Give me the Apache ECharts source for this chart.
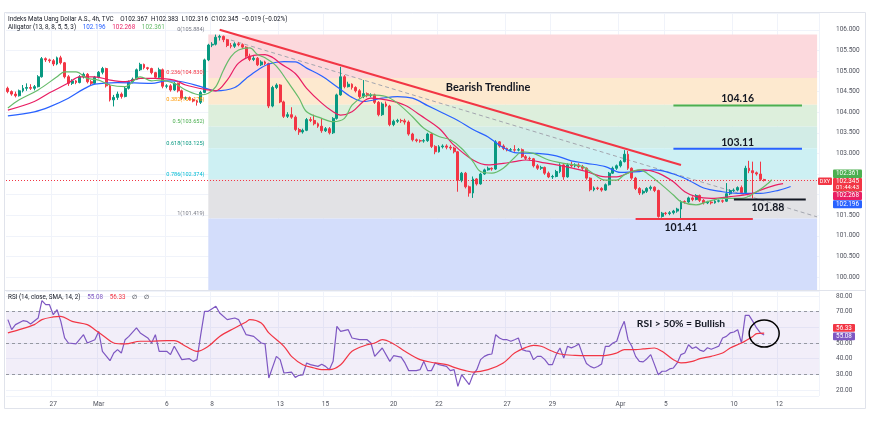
<!DOCTYPE html>
<html><head><meta charset="utf-8">
<script src="https://cdn.jsdelivr.net/npm/echarts@6/dist/echarts.min.js"></script>
<style>html,body{margin:0;padding:0;background:#fff}#c{width:870px;height:426px}</style>
</head><body><div id="c"></div>
<script>
// ---------- DATA ----------
// 4h candles, DXY, 23 Feb – 11 Apr 2023 : [open, close, low, high]
const ohlc = [
[104.58,104.50,104.46,104.62],[104.50,104.44,104.40,104.53],[104.44,104.40,104.36,104.50],[104.40,104.52,104.38,104.55],
[104.52,104.58,104.48,104.66],[104.58,104.60,104.52,104.70],[104.60,104.58,104.54,104.68],[104.58,104.62,104.53,104.66],
[104.62,104.86,104.60,104.90],[104.86,105.30,104.84,105.34],[105.30,105.27,105.22,105.33],[105.27,105.25,105.20,105.30],
[105.25,105.17,105.12,105.29],[105.17,105.32,105.14,105.35],[105.32,105.20,105.16,105.37],[105.20,104.86,104.82,105.22],
[104.86,104.70,104.64,104.90],[104.70,104.76,104.66,104.80],[104.76,104.72,104.68,104.78],[104.72,104.86,104.70,104.90],
[104.86,104.92,104.82,104.96],[104.92,104.74,104.70,104.95],[104.74,104.70,104.66,104.78],[104.70,104.85,104.68,104.88],
[104.85,104.97,104.82,105.00],[104.97,105.06,104.92,105.10],[105.06,104.64,104.60,105.08],[104.64,104.30,104.26,104.68],
[104.30,104.36,104.14,104.42],[104.36,104.44,104.30,104.50],[104.44,104.38,104.33,104.48],[104.38,104.58,104.36,104.62],
[104.58,104.74,104.55,104.77],[104.74,104.80,104.70,104.84],[104.80,105.03,104.78,105.06],[105.03,105.16,105.00,105.20],
[105.16,105.08,105.04,105.18],[105.08,105.06,105.02,105.10],[105.06,104.96,104.92,105.08],[104.96,104.85,104.82,104.98],
[104.85,105.03,104.83,105.08],[105.03,104.63,104.58,105.06],[104.63,104.64,104.58,104.68],[104.64,104.54,104.50,104.68],
[104.54,104.70,104.52,104.73],[104.70,104.52,104.48,104.72],[104.52,104.34,104.30,104.55],[104.34,104.35,104.30,104.38],
[104.35,104.31,104.28,104.38],[104.31,104.27,104.24,104.34],[104.27,104.24,104.16,104.30],[104.24,104.48,104.20,104.52],
[104.48,105.27,104.46,105.30],[105.27,105.63,105.24,105.66],[105.63,105.65,105.58,105.70],[105.65,105.82,105.62,105.884],
[105.82,105.84,105.74,105.88],[105.84,105.76,105.70,105.86],[105.76,105.62,105.58,105.78],[105.62,105.60,105.55,105.68],
[105.60,105.66,105.56,105.70],[105.66,105.64,105.60,105.70],[105.64,105.58,105.54,105.67],[105.58,105.36,105.32,105.60],
[105.36,105.28,105.24,105.42],[105.28,105.31,105.24,105.36],[105.31,105.15,105.12,105.34],[105.15,105.22,105.12,105.26],
[105.22,105.18,105.14,105.25],[105.18,104.15,104.10,105.20],[104.15,104.60,104.12,104.64],[104.60,104.66,104.56,104.70],
[104.66,104.25,104.22,104.68],[104.25,103.90,103.86,104.28],[103.90,103.94,103.86,104.00],[103.94,103.88,103.84,104.12],
[103.88,103.58,103.54,103.92],[103.58,103.52,103.45,103.62],[103.52,103.56,103.48,103.60],[103.56,103.82,103.54,103.86],
[103.82,103.80,103.76,103.88],[103.80,103.72,103.68,103.94],[103.72,103.66,103.62,103.75],[103.66,103.55,103.50,103.86],
[103.55,103.60,103.52,103.64],[103.60,103.50,103.46,103.64],[103.50,103.85,103.47,103.88],[103.85,104.42,103.82,104.45],
[104.42,104.86,104.40,105.10],[104.86,104.62,104.58,104.90],[104.62,104.68,104.60,104.74],[104.68,104.60,104.55,104.70],
[104.60,104.52,104.48,104.63],[104.52,104.38,104.33,104.56],[104.38,104.45,104.34,104.78],[104.45,104.40,104.36,104.48],
[104.40,104.42,104.36,104.46],[104.42,104.24,104.20,104.45],[104.24,103.94,103.90,104.27],[103.94,104.20,103.91,104.24],
[104.20,104.15,104.12,104.26],[104.15,103.70,103.66,104.18],[103.70,103.78,103.66,103.82],[103.78,103.80,103.74,103.84],
[103.80,103.79,103.74,103.84],[103.79,103.76,103.70,103.84],[103.76,103.47,103.43,103.80],[103.47,103.33,103.29,103.50],
[103.33,103.31,103.27,103.36],[103.31,103.30,103.26,103.34],[103.30,103.31,103.26,103.35],[103.31,103.47,103.28,103.50],
[103.47,103.17,103.13,103.50],[103.17,103.04,102.98,103.20],[103.04,103.16,103.02,103.20],[103.16,103.18,103.12,103.22],
[103.18,103.15,103.10,103.22],[103.15,103.13,103.08,103.20],[103.13,103.04,103.00,103.16],[103.04,102.35,102.07,103.06],
[102.35,102.52,102.30,102.55],[102.52,102.19,102.15,102.55],[102.19,102.04,101.95,102.22],[102.04,102.38,101.92,102.44],
[102.38,102.26,102.22,102.40],[102.26,102.50,102.24,102.53],[102.50,102.60,102.48,102.63],[102.60,102.64,102.58,102.68],
[102.64,102.62,102.58,102.66],[102.62,103.28,102.60,103.32],[103.28,103.18,103.14,103.30],[103.18,103.12,103.08,103.22],
[103.12,103.08,103.05,103.14],[103.08,103.09,103.05,103.13],[103.09,103.08,103.04,103.20],[103.08,103.09,103.05,103.13],
[103.09,102.92,102.89,103.12],[102.92,102.88,102.84,102.96],[102.88,102.87,102.83,102.92],[102.87,102.70,102.66,102.89],
[102.70,102.64,102.60,102.74],[102.64,102.66,102.60,102.70],[102.66,102.52,102.48,102.68],[102.52,102.43,102.40,102.56],
[102.43,102.44,102.38,102.48],[102.44,102.56,102.42,102.60],[102.56,102.72,102.52,102.76],[102.72,102.43,102.36,102.74],
[102.43,102.72,102.41,102.76],[102.72,102.70,102.66,102.80],[102.70,102.72,102.66,102.76],[102.72,102.68,102.64,102.76],
[102.68,102.64,102.60,102.72],[102.64,102.40,102.36,102.66],[102.40,102.12,102.08,102.42],[102.12,102.16,102.08,102.20],
[102.16,102.15,102.11,102.19],[102.15,102.11,102.07,102.18],[102.11,102.24,102.09,102.27],[102.24,102.52,102.22,102.55],
[102.52,102.64,102.50,102.68],[102.64,102.70,102.60,102.73],[102.70,102.80,102.66,102.84],[102.80,102.98,102.78,103.08],
[102.98,102.64,102.60,103.06],[102.64,102.40,102.36,102.66],[102.40,102.15,102.11,102.43],[102.15,102.04,101.99,102.18],
[102.04,102.08,102.00,102.12],[102.08,102.15,102.04,102.18],[102.15,102.18,102.10,102.22],[102.18,102.10,102.06,102.20],
[102.10,101.47,101.44,102.12],[101.47,101.55,101.44,101.58],[101.55,101.54,101.50,101.58],[101.54,101.56,101.50,101.60],
[101.56,101.60,101.52,101.63],[101.60,101.65,101.56,101.68],[101.65,101.83,101.419,101.86],[101.83,101.82,101.78,101.86],
[101.82,101.92,101.80,101.95],[101.92,101.88,101.84,101.96],[101.88,101.98,101.86,102.01],[101.98,101.86,101.82,102.00],
[101.86,101.80,101.76,101.89],[101.80,101.82,101.77,101.85],[101.82,101.80,101.76,101.85],[101.80,101.84,101.78,101.87],
[101.84,101.85,101.81,101.88],[101.85,101.84,101.80,101.88],[101.84,102.02,101.82,102.28],[102.02,102.10,101.99,102.13],
[102.10,102.11,102.06,102.15],[102.11,102.17,102.08,102.20],[102.17,102.05,102.02,102.22],[102.05,102.64,102.02,102.70],
[102.64,102.58,102.52,102.82],[102.58,102.53,101.91,102.80],[102.53,102.50,102.46,102.56],[102.50,102.37,102.33,102.80],
[102.367,102.345,102.316,102.383]
];

// Alligator lines: [bar index, value]
const jaw = [[0,103.91],[7,104.01],[11,104.13],[16,104.34],[20,104.56],[23,104.68],[29,104.72],[38,104.70],[42,104.76],[46,104.74],[51,104.62],[55,104.52],[60,104.60],[63,104.82],[66,105.02],[69,105.17],[73,105.23],[76,105.22],[79,105.07],[83,104.88],[87,104.62],[91,104.36],[94,104.26],[99,104.34],[103,104.38],[107,104.34],[111,104.16],[115,103.98],[119,103.80],[123,103.58],[127,103.40],[130,103.20],[134,103.02],[140,103.00],[145,102.94],[149,102.82],[153,102.76],[158,102.68],[162,102.54],[167,102.56],[171,102.60],[176,102.50],[180,102.35],[184,102.16],[189,102.07],[193,102.03],[199,102.03],[204,102.11],[207,102.196]];
const teeth = [[0,104.05],[7,104.26],[11,104.47],[16,104.71],[19,104.86],[23,104.86],[27,104.78],[31,104.74],[35,104.82],[39,104.82],[44,104.78],[47,104.66],[53,104.54],[55,104.52],[58,104.78],[61,105.19],[65,105.38],[68,105.40],[70,105.33],[72,105.19],[76,104.94],[79,104.58],[83,104.22],[86,104.01],[88,103.93],[91,104.01],[94,104.26],[96,104.34],[100,104.30],[105,104.17],[109,103.93],[114,103.61],[118,103.20],[123,102.84],[127,102.72],[131,102.76],[134,102.80],[137,102.84],[142,102.77],[149,102.65],[153,102.56],[158,102.43],[161,102.43],[165,102.56],[168,102.60],[172,102.52],[176,102.31],[179,102.07],[182,101.95],[186,101.91],[191,101.95],[197,102.03],[199,102.11],[203,102.23],[205,102.268]];
const lips = [[0,104.10],[3,104.30],[8,104.54],[13,104.86],[15,104.98],[18,104.98],[21,104.82],[24,104.78],[27,104.66],[31,104.62],[35,104.86],[38,104.76],[40,104.78],[44,104.70],[47,104.54],[51,104.42],[53,104.46],[55,104.62],[57,105.02],[59,105.35],[61,105.51],[64,105.56],[66,105.40],[68,105.32],[71,105.12],[74,104.74],[77,104.34],[79,104.01],[83,103.85],[86,103.77],[89,103.85],[91,104.17],[94,104.38],[96,104.42],[100,104.38],[103,104.22],[107,103.89],[110,103.61],[114,103.41],[117,103.33],[120,103.12],[123,102.80],[125,102.56],[128,102.52],[131,102.64],[134,102.90],[136,103.04],[139,103.00],[143,102.84],[147,102.76],[152,102.68],[154,102.56],[158,102.35],[161,102.35],[163,102.48],[167,102.60],[169,102.52],[173,102.23],[176,101.99],[178,101.83],[182,101.75],[185,101.83],[189,101.91],[194,101.91],[198,102.07],[201,102.27],[202,102.361]];

// RSI(14) and its SMA(14): [bar index, value]
const rsi = [[0,64.9],[1,58.5],[2,61.7],[4,64.2],[5,63.8],[6,62.1],[8,65.9],[9,77.0],[10,74.4],[11,74.4],[12,68.0],[13,71.2],[14,63.8],[15,53.2],[16,50.0],[18,49.4],[20,55.3],[21,50.0],[23,52.1],[24,57.4],[25,44.7],[27,38.7],[28,43.6],[29,45.8],[30,43.6],[31,52.1],[32,54.2],[34,59.6],[35,56.4],[37,53.2],[38,50.0],[39,55.3],[40,44.7],[42,44.7],[43,42.6],[44,47.9],[46,39.4],[48,40.0],[49,38.3],[50,39.4],[51,55.3],[52,70.2],[53,70.2],[55,73.4],[56,69.1],[58,64.9],[60,65.9],[61,64.9],[63,55.3],[65,54.2],[67,50.0],[68,49.4],[69,27.7],[71,41.5],[72,39.4],[73,30.9],[75,31.5],[76,28.1],[77,29.4],[78,29.6],[79,37.3],[80,36.2],[82,35.1],[83,36.5],[84,35.1],[85,33.0],[86,38.3],[87,60.6],[88,57.4],[90,58.5],[91,53.2],[93,52.1],[95,52.1],[96,50.0],[97,41.5],[99,46.8],[101,38.3],[102,41.9],[104,41.0],[105,37.3],[106,32.4],[108,32.4],[109,33.0],[110,38.3],[111,32.4],[112,32.4],[113,37.3],[114,36.2],[116,35.1],[117,32.4],[118,33.0],[119,22.4],[120,29.8],[121,26.6],[122,23.5],[123,29.8],[124,33.0],[125,39.4],[126,41.5],[127,42.6],[128,43.0],[129,55.3],[130,53.2],[131,52.1],[132,52.1],[133,51.1],[134,52.1],[135,53.2],[136,45.8],[137,45.0],[138,44.7],[139,39.4],[140,41.5],[141,41.5],[142,39.4],[143,36.2],[144,36.2],[145,42.6],[146,46.8],[147,40.4],[148,47.9],[149,46.9],[150,47.9],[151,49.4],[152,42.6],[153,37.0],[154,35.1],[155,34.1],[156,35.0],[157,36.6],[158,47.9],[159,47.9],[160,50.0],[161,51.1],[162,58.5],[163,63.8],[164,52.1],[165,47.9],[166,41.5],[167,38.3],[168,38.0],[169,40.0],[170,42.6],[171,36.2],[172,29.8],[173,32.0],[174,32.0],[175,33.5],[176,34.1],[177,37.3],[178,42.6],[179,43.6],[180,48.9],[181,46.5],[182,47.5],[183,45.5],[184,44.7],[185,47.0],[186,46.0],[187,47.0],[188,48.0],[189,53.2],[190,54.2],[191,56.4],[192,57.0],[193,58.5],[194,50.0],[195,67.6],[196,67.6],[197,63.8],[198,59.6],[199,56.4],[200,55.08]];
const rsiSma = [[0,56.4],[3,58.5],[7,61.7],[9,64.9],[12,66.6],[14,67.0],[17,63.8],[21,61.7],[23,58.5],[26,53.2],[28,50.0],[31,49.4],[35,51.1],[38,51.1],[42,51.5],[44,51.5],[47,47.9],[50,44.7],[53,47.9],[56,54.2],[60,59.6],[63,63.4],[64,64.9],[67,62.7],[69,56.4],[73,47.9],[75,41.5],[78,36.2],[81,34.1],[83,33.0],[85,33.0],[88,36.2],[91,44.7],[95,48.9],[97,50.0],[99,52.1],[102,49.4],[105,44.7],[109,39.4],[113,37.3],[116,36.2],[118,34.5],[121,32.4],[123,31.5],[127,33.0],[131,37.3],[134,43.6],[137,47.2],[139,48.5],[141,47.9],[144,44.7],[146,43.0],[150,42.1],[153,41.9],[157,41.9],[161,43.6],[163,45.8],[166,45.8],[168,46.2],[171,46.8],[173,44.7],[176,39.4],[178,37.3],[181,38.3],[183,40.0],[186,41.5],[189,43.6],[191,46.8],[194,50.0],[197,54.2],[198,56.0],[200,56.33]];

// Fibonacci retracement
const fibRatios = ['0','0.236','0.382','0.5','0.618','0.786','1'];
const fibLevels = [105.884, 104.830, 104.178, 103.652, 103.125, 102.374, 101.419];
const fibStartBar = 53;

// Drawn lines (bar index, price)
const trendLine = [[56,106.00],[178,102.72]];
const dashedTrend = [[59,105.75],[214,101.46]];
const levelValues = [104.16, 103.11, 101.88, 101.41];
const levelBars = [[176,210],[176,210],[192,211],[166,197]];

// x-axis tick labels (trading day number from 23 Feb, 6 bars a day)
const barsPerDay = 6;
const tickDays = [2,4,7,9,12,14,17,19,22,24,27,29,32,34];
const tickLabels = ['27','Mar','6','8','13','15','20','22','27','29','Apr','5','10','12'];

const lastPrice = 102.345;
const lastRsi = 55.08, lastRsiSma = 56.33;
const lastJaw = 102.196, lastTeeth = 102.268, lastLips = 102.361;

// ---------- CHART ----------
const N = 215;
const categories = Array.from({length: N}, (_, i) => 'b' + i);
const tickMap = {};
tickDays.forEach((d, k) => { tickMap[d * barsPerDay] = tickLabels[k]; });

const FF = 'Roboto, "Noto Sans", sans-serif';
const gridCol = '#f0f3fa';
const axisTxt = '#50535e';
const fibLineCols = ['#787b86','#f23645','#ff9800','#4caf50','#089981','#00bcd4','#787b86'];
const fibFillCols = ['#fcd9dd','#fde9cf','#ddefdc','#d2ece6','#cdf0f3','#e2e2e5','#d3ddfb'];

const chart = echarts.init(document.getElementById('c'));

const fibAreas = [];
for (let k = 0; k < fibLevels.length; k++) {
  const top = fibLevels[k];
  const bot = k + 1 < fibLevels.length ? fibLevels[k + 1] : 99.6845;
  fibAreas.push([{xAxis: fibStartBar, yAxis: top, itemStyle: {color: fibFillCols[k]}}, {xAxis: 214.5, yAxis: bot}]);
}
const fibLines = fibLevels.map((v, k) => [
  {coord: [fibStartBar, v], lineStyle: {color: fibLineCols[k], width: 1, type: 'solid'}},
  {coord: [214.5, v]}
]);

const priceFmt = v => (Math.abs(v * 2 - Math.round(v * 2)) < 1e-6) ? v.toFixed(3) : '';
const rsiFmt = v => (Math.abs(v / 10 - Math.round(v / 10)) < 1e-6) ? v.toFixed(2) : '';

const levelCols = ['#4caf50', '#2962ff', '#131722', '#f23645'];

const option = {
  animation: false,
  backgroundColor: '#ffffff',
  grid: [
    {left: 6, top: 13, width: 813, height: 277, outerBoundsMode: 'none'},
    {left: 6, top: 291, width: 813, height: 105, outerBoundsMode: 'none'}
  ],
  xAxis: [
    {type: 'category', gridIndex: 0, data: categories, boundaryGap: true,
     axisLine: {show: false}, axisTick: {show: false}, axisLabel: {show: false},
     splitLine: {show: true, interval: (i) => (i in tickMap), lineStyle: {color: gridCol}}},
    {type: 'category', gridIndex: 1, data: categories, boundaryGap: true,
     axisLine: {show: false}, axisTick: {show: false},
     axisLabel: {show: true, interval: (i) => (i in tickMap), formatter: (v, i) => tickMap[i] || '',
                 color: axisTxt, fontSize: 6.5, fontFamily: FF, margin: 5, hideOverlap: false},
     splitLine: {show: true, interval: (i) => (i in tickMap), lineStyle: {color: gridCol}}}
  ],
  yAxis: [
    {type: 'value', gridIndex: 0, position: 'right', min: 99.6845, max: 106.408, splitNumber: 13,
     axisLine: {show: false}, axisTick: {show: false},
     axisLabel: {formatter: priceFmt, color: axisTxt, fontSize: 6.5, fontFamily: FF, margin: 17, showMinLabel: false, showMaxLabel: false},
     splitLine: {show: true, lineStyle: {color: gridCol}}},
    {type: 'value', gridIndex: 1, position: 'right', min: 16.24, max: 83.12, splitNumber: 7,
     axisLine: {show: false}, axisTick: {show: false},
     axisLabel: {formatter: rsiFmt, color: axisTxt, fontSize: 6.5, fontFamily: FF, margin: 17, showMinLabel: false, showMaxLabel: false},
     splitLine: {show: true, lineStyle: {color: gridCol}}}
  ],
  series: [
    {name: 'fib', type: 'line', xAxisIndex: 0, yAxisIndex: 0, data: [], z: 1, silent: true,
     markArea: {silent: true, data: fibAreas},
     markLine: {silent: true, symbol: 'none', label: {show: false},
       data: fibLines.concat([{yAxis: lastPrice, lineStyle: {color: '#f23645', width: 1, type: [1, 2]}}])}},
    {name: 'DXY', type: 'candlestick', xAxisIndex: 0, yAxisIndex: 0, data: ohlc, barWidth: 2.4, z: 5,
     itemStyle: {color: '#089981', color0: '#f23645', borderColor: '#089981', borderColor0: '#f23645', borderWidth: 1}},
    {name: 'jaw', type: 'line', xAxisIndex: 0, yAxisIndex: 0, data: jaw, symbol: 'none', smooth: 0.35, z: 6,
     lineStyle: {color: '#2962ff', width: 1.2}},
    {name: 'teeth', type: 'line', xAxisIndex: 0, yAxisIndex: 0, data: teeth, symbol: 'none', smooth: 0.35, z: 6,
     lineStyle: {color: '#e91e63', width: 1.2}},
    {name: 'lips', type: 'line', xAxisIndex: 0, yAxisIndex: 0, data: lips, symbol: 'none', smooth: 0.35, z: 6,
     lineStyle: {color: '#66bb6a', width: 1.2}},
    {name: 'trend', type: 'line', xAxisIndex: 0, yAxisIndex: 0, data: trendLine, symbol: 'none', z: 7,
     lineStyle: {color: '#f23645', width: 2}},
    {name: 'trend2', type: 'line', xAxisIndex: 0, yAxisIndex: 0, data: dashedTrend, symbol: 'none', z: 4,
     lineStyle: {color: '#a3a6af', width: 1, type: [4, 3]}}
  ].concat(levelValues.map((v, k) => ({
     name: 'lvl' + k, type: 'line', xAxisIndex: 0, yAxisIndex: 0, symbol: 'none', z: 7,
     data: [[levelBars[k][0], v], [levelBars[k][1], v]],
     lineStyle: {color: levelCols[k], width: 2}
  }))).concat([
    {name: 'rsiBand', type: 'line', xAxisIndex: 1, yAxisIndex: 1, data: [], z: 1, silent: true,
     markArea: {silent: true, itemStyle: {color: 'rgba(126,87,194,0.1)'}, data: [[{yAxis: 30}, {yAxis: 70}]]},
     markLine: {silent: true, symbol: 'none', label: {show: false},
       lineStyle: {color: '#9598a1', type: [3, 3], width: 1}, data: [{yAxis: 70}, {yAxis: 50}, {yAxis: 30}]}},
    {name: 'rsi', type: 'line', xAxisIndex: 1, yAxisIndex: 1, data: rsi, symbol: 'none', z: 5,
     lineStyle: {color: '#7e57c2', width: 1.2}},
    {name: 'rsiSma', type: 'line', xAxisIndex: 1, yAxisIndex: 1, data: rsiSma, symbol: 'none', smooth: 0.35, z: 6,
     lineStyle: {color: '#f23645', width: 1.2}}
  ])
};
chart.setOption(option);

// ---------- OVERLAYS (positions derived from data coords) ----------
const P = (gi, x, y) => chart.convertToPixel({gridIndex: gi}, [x, y]);
const g = [];
const txt = (x, y, text, opt, z) => ({type: 'text', x: x, y: y, z: z || 100, silent: true,
  style: Object.assign({text: text, fill: '#131722', font: '6.5px ' + FF, align: 'left', verticalAlign: 'middle'}, opt || {})});

// frame
g.push({type: 'rect', z: 90, silent: true, shape: {x: 4.5, y: 12.5, width: 861, height: 396}, style: {fill: 'none', stroke: '#e0e3eb', lineWidth: 1}});
g.push({type: 'line', z: 90, silent: true, shape: {x1: 4.5, y1: 290.5, x2: 865.5, y2: 290.5}, style: {stroke: '#e0e3eb', lineWidth: 1}});

// header
const R = (c) => ({fontSize: 6.3, fontFamily: FF, color: c, fill: c});
g.push({type: 'text', x: 8, y: 19.5, z: 100, silent: true, style: {
  text: '{t|Indeks Mata Uang Dollar A.S., 4h, TVC}  {l|O}{v|102.367} {l|H}{v|102.383} {l|L}{v|102.316} {l|C}{v|102.345} {v|−0.019 (−0.02%)}',
  verticalAlign: 'middle', rich: {t: R('#131722'), l: R('#131722'), v: R('#131722')}}});
g.push({type: 'text', x: 8, y: 27.5, z: 100, silent: true, style: {
  text: '{t|Alligator (13, 8, 8, 5, 5, 3)}  {b|' + lastJaw.toFixed(3) + '}  {r|' + lastTeeth.toFixed(3) + '}  {g|' + lastLips.toFixed(3) + '}',
  verticalAlign: 'middle', rich: {t: R('#131722'), b: R('#2962ff'), r: R('#e91e63'), g: R('#66bb6a')}}});
g.push({type: 'text', x: 8, y: 297, z: 100, silent: true, style: {
  text: '{t|RSI (14, close, SMA, 14, 2)}  {p|' + lastRsi.toFixed(2) + '}  {r|' + lastRsiSma.toFixed(2) + '}  {t|∅}  {t|∅}',
  verticalAlign: 'middle', rich: {t: R('#131722'), p: R('#7e57c2'), r: R('#f23645')}}});

// fib labels
fibLevels.forEach((v, k) => {
  const p = P(0, fibStartBar - 0.6, v);
  g.push(txt(p[0], p[1] - 5, fibRatios[k] + '(' + v.toFixed(3) + ')', {fill: fibLineCols[k], align: 'right', font: '5.6px ' + FF}));
});

// annotations
const bold = (x, y, text, size) => txt(x, y, text, {font: 'bold ' + size + 'px Lato, "Open Sans", sans-serif', align: 'center', fill: '#131722'});
let p;
p = P(0, 126.5, 104.59); g.push(bold(p[0], p[1], 'Bearish Trendline', 11));
p = P(0, 193, levelValues[0]); g.push(bold(p[0], p[1] - 7.5, levelValues[0].toFixed(2), 10.5));
p = P(0, 193, levelValues[1]); g.push(bold(p[0], p[1] - 6.5, levelValues[1].toFixed(2), 10.5));
p = P(0, 201, levelValues[2]); g.push(bold(p[0], p[1] + 8.5, levelValues[2].toFixed(2), 10.5));
p = P(0, 178.3, levelValues[3]); g.push(bold(p[0], p[1] + 9, levelValues[3].toFixed(2), 10.5));
p = P(1, 178, 62.4); g.push(bold(p[0], p[1], 'RSI > 50% = Bullish', 10.3));
p = P(1, 199.7, 56);
g.push({type: 'ellipse', z: 100, silent: true, shape: {cx: p[0], cy: p[1], rx: 15, ry: 13.5}, style: {fill: 'none', stroke: '#000', lineWidth: 1.5}});

// price tags
const tag = (x, y, w, h, fill, text, extra) => {
  g.push({type: 'rect', z: 110, silent: true, shape: {x: x, y: y, width: w, height: h, r: 1}, style: {fill: fill}});
  g.push(txt(x + w / 2, y + h / 2, text, Object.assign({fill: '#ffffff', align: 'center', font: '6.3px ' + FF}, extra || {}), 120));
};
const yP = P(0, 0, lastPrice)[1];
const TX = 833, TW = 29;
tag(TX, yP - 11, TW, 8.5, '#4caf50', lastLips.toFixed(3));
g.push({type: 'rect', z: 110, silent: true, shape: {x: TX, y: yP - 2.5, width: TW, height: 13.5, r: 1}, style: {fill: '#f23645'}});
g.push(txt(TX + TW / 2, yP + 1, lastPrice.toFixed(3), {fill: '#ffffff', align: 'center', font: '6.3px ' + FF}, 120));
g.push(txt(TX + TW / 2, yP + 7.3, '01:44:43', {fill: '#ffffff', align: 'center', font: '6px ' + FF}, 120));
tag(818, yP - 3, 14, 7.5, '#f23645', 'DXY', {font: '5.5px ' + FF});
tag(TX, yP + 11.5, TW, 8, '#e91e63', lastTeeth.toFixed(3));
tag(TX, yP + 19.8, TW, 8, '#2962ff', lastJaw.toFixed(3));
const yR = P(1, 0, lastRsiSma)[1];
tag(TX, yR - 9, 22, 7.8, '#f23645', lastRsiSma.toFixed(2));
tag(TX, yR - 0.6, 22, 7.8, '#7e57c2', lastRsi.toFixed(2));

chart.setOption({graphic: g});
</script>
</body></html>
